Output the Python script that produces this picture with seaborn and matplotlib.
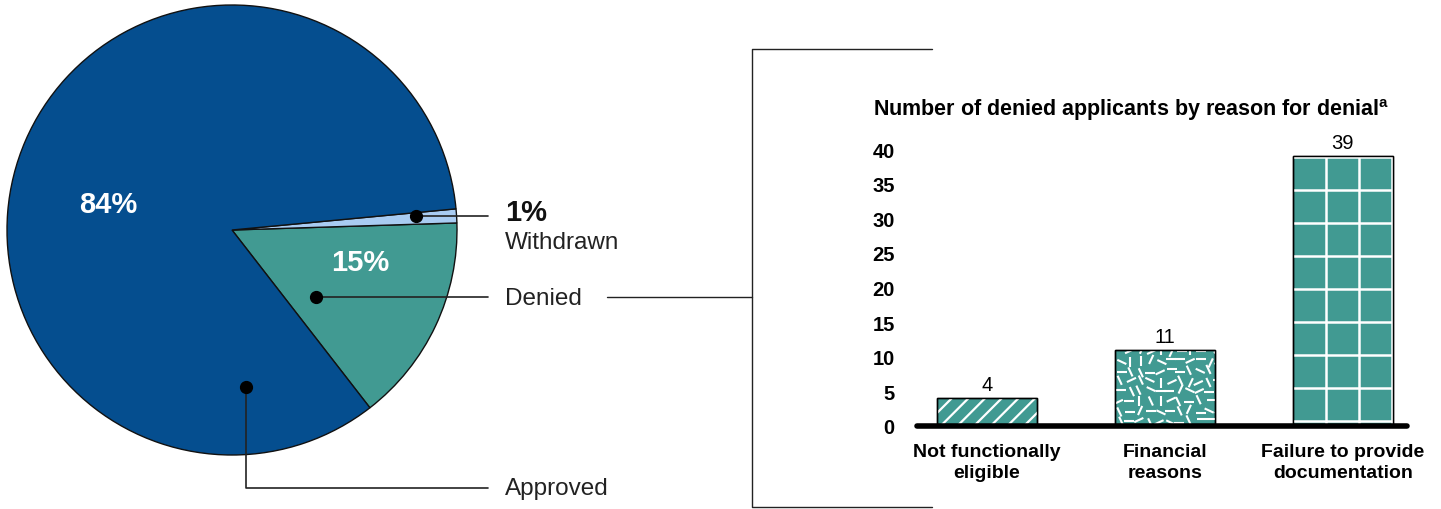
import matplotlib
matplotlib.use("Agg")
import matplotlib.pyplot as plt
from matplotlib.collections import LineCollection
from matplotlib.lines import Line2D
from matplotlib.patches import Rectangle
import numpy as np
import pandas as pd
import seaborn as sns

sns.set_theme(style="white")
plt.rcParams['font.family'] = ['Liberation Sans', 'DejaVu Sans']
plt.rcParams['hatch.linewidth'] = 1.6

# pie data (share of applicants, %)
outcomes = ["Approved", "Denied", "Withdrawn"]
shares = [84, 15, 1]

# bar data (denied applicants by reason)
reasons = ["Not functionally\neligible", "Financial\nreasons", "Failure to provide\ndocumentation"]
counts = [4, 11, 39]
yticks = [0, 5, 10, 15, 20, 25, 30, 35, 40]

dark_blue = "#054E8F"
teal = "#419A92"
light_blue = "#A9CCF2"

W, H = 1441, 510
fig = plt.figure(figsize=(W / 100, H / 100), dpi=100)


def fx(x):
    return x / W


def fy(y):
    return (H - y) / H


def fig_line(xs, ys, lw=1.0):
    fig.add_artist(Line2D([fx(v) for v in xs], [fy(v) for v in ys],
                          transform=fig.transFigure, color="#222222", lw=lw))


# ---------------- pie ----------------
ax_pie = fig.add_axes([fx(7), fy(456), 450 / W, 450 / H])
order = [1, 2, 0]  # denied, withdrawn, approved counter-clockwise
pie_vals = [shares[i] for i in order]
pie_cols = [[dark_blue, teal, light_blue][i] for i in order]
wedges, _ = ax_pie.pie(pie_vals, colors=pie_cols, startangle=-52.2, counterclock=True,
                       radius=1, wedgeprops=dict(edgecolor="#111111", linewidth=1))
ax_pie.set_xlim(-1, 1)
ax_pie.set_ylim(-1, 1)
ax_pie.axis("off")

ax_pie.text(-0.551, 0.116, f"{shares[0]}%", color="white", fontsize=21, fontweight="bold",
            ha="center", va="center")
ax_pie.text(0.569, -0.142, f"{shares[1]}%", color="white", fontsize=21, fontweight="bold",
            ha="center", va="center")

# dots + leader lines (data coords of pie axes)
r = 225.0
def pd_(x, y):
    return (x - 232) / r, (231 - y) / r

wd = pd_(416, 217)
dd = pd_(316, 298)
ad = pd_(246, 388)
end_x = pd_(488, 0)[0]
lab_x = pd_(505, 0)[0]
ay = pd_(0, 489)[1]

for (x, y) in [wd, dd]:
    ax_pie.plot([x, end_x], [y, y], color="#222222", lw=1.2, clip_on=False)
ax_pie.plot([ad[0], ad[0], end_x], [ad[1], ay, ay], color="#222222", lw=1.2, clip_on=False)
for (x, y) in [wd, dd, ad]:
    ax_pie.plot(x, y, "o", color="black", ms=8.5, clip_on=False)

ax_pie.text(lab_x, pd_(0, 213)[1], f"{shares[2]}%", fontsize=21, fontweight="bold",
            color="#111111", ha="left", va="center", clip_on=False)
ax_pie.text(lab_x, pd_(0, 243)[1], outcomes[2], fontsize=17.5, color="#222222",
            ha="left", va="center", clip_on=False)
ax_pie.text(lab_x, pd_(0, 299)[1], outcomes[1], fontsize=17.5, color="#222222",
            ha="left", va="center", clip_on=False)
ax_pie.text(lab_x, ay, outcomes[0], fontsize=17.5, color="#222222",
            ha="left", va="center", clip_on=False)

# bracket connecting the denied slice to the bar chart
fig_line([607, 752], [298, 298])
fig_line([932, 752, 752, 932], [50, 50, 508, 508])

# ---------------- bars ----------------
ax_bar = fig.add_axes([fx(917), fy(427), 490 / W, 277 / H])
df = pd.DataFrame({"reason": reasons, "count": counts})
sns.barplot(data=df, x="reason", y="count", color=teal, saturation=1, width=0.56,
            edgecolor="black", linewidth=1, ax=ax_bar)
ax_bar.set_xlim(-0.393, 2.36)
ax_bar.set_ylim(0, 40)
ax_bar.set_yticks(yticks)
ax_bar.set_xlabel("")
ax_bar.set_ylabel("")
sns.despine(ax=ax_bar, left=True, bottom=True)
ax_bar.tick_params(axis="y", length=0, pad=16, labelsize=14.5)
ax_bar.tick_params(axis="x", length=0, pad=12, labelsize=14)
for t in ax_bar.get_yticklabels() + ax_bar.get_xticklabels():
    t.set_fontweight("bold")
    t.set_color("black")
for t in ax_bar.get_xticklabels():
    t.set_linespacing(1.35)
ax_bar.axhline(0, color="black", lw=4, clip_on=False, zorder=5)
ax_bar.bar_label(ax_bar.containers[0], labels=[str(c) for c in counts], padding=3,
                 fontsize=14.5, color="black")

bars = ax_bar.patches

# bar 1: diagonal hatch
b = bars[0]
ax_bar.add_patch(Rectangle((b.get_x(), b.get_y()), b.get_width(), b.get_height(),
                           fill=False, hatch="//", edgecolor="white", lw=0, zorder=3))
ax_bar.add_patch(Rectangle((b.get_x(), b.get_y()), b.get_width(), b.get_height(),
                           fill=False, edgecolor="black", lw=1, zorder=4))

inv = ax_bar.transData.inverted()


def px_bounds(p):
    (x0, y0), (x1, y1) = ax_bar.transData.transform(
        [(p.get_x(), p.get_y()), (p.get_x() + p.get_width(), p.get_y() + p.get_height())])
    return x0, y0, x1, y1


# bar 2: scattered dash texture
b = bars[1]
x0, y0, x1, y1 = px_bounds(b)
rs = np.random.RandomState(7)
segs = []
step = 10
for cx in np.arange(x0 + step / 2, x1 + step, step):
    for cy in np.arange(y0 + step / 2, y1 + step, step):
        ang = np.deg2rad(rs.choice([0, 25, 65, 90, 115, 155, 180]))
        jx, jy = rs.uniform(-2.0, 2.0, 2)
        dx, dy = 5.0 * np.cos(ang), 5.0 * np.sin(ang)
        segs.append(inv.transform([(cx + jx - dx, cy + jy - dy), (cx + jx + dx, cy + jy + dy)]))
lc = LineCollection(segs, colors="white", linewidths=1.5, zorder=3)
ax_bar.add_collection(lc)
lc.set_clip_path(b)
ax_bar.add_patch(Rectangle((b.get_x(), b.get_y()), b.get_width(), b.get_height(),
                           fill=False, edgecolor="black", lw=1, zorder=4))

# bar 3: white grid
b = bars[2]
x0, y0, x1, y1 = px_bounds(b)
gsegs = []
for gx in np.arange(x0 + 33, x1, 33):
    gsegs.append(inv.transform([(gx, y0), (gx, y1)]))
for gy in np.arange(y0 + 5, y1, 33):
    gsegs.append(inv.transform([(x0, gy), (x1, gy)]))
gl = LineCollection(gsegs, colors="white", linewidths=1.8, zorder=3)
ax_bar.add_collection(gl)
gl.set_clip_path(b)
ax_bar.add_patch(Rectangle((b.get_x(), b.get_y()), b.get_width(), b.get_height(),
                           fill=False, edgecolor="black", lw=1, zorder=4))

fig.text(fx(873), fy(110), "Number of denied applicants by reason for denial$^{\\mathregular{a}}$",
         fontsize=15.5, fontweight="bold", ha="left", va="center", color="black")

fig.savefig("out.png", dpi=100)
